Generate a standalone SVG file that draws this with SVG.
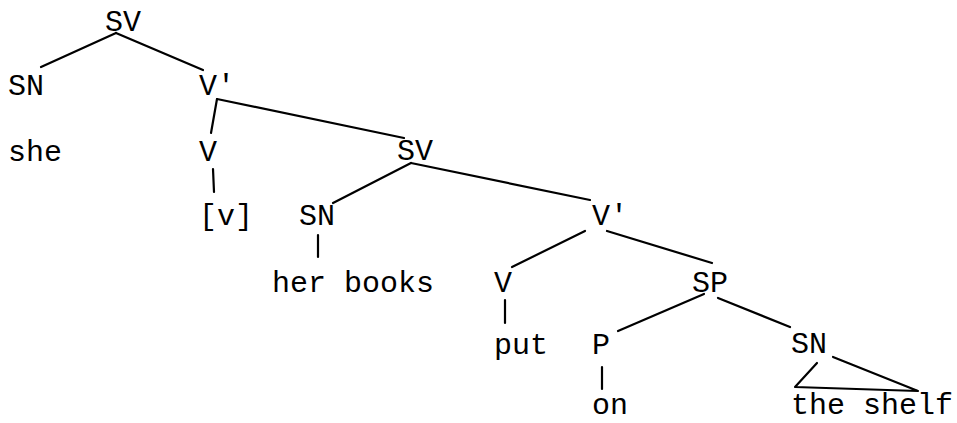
<svg xmlns="http://www.w3.org/2000/svg" width="957" height="423" viewBox="0 0 957 423">
<style>
text{font-family:"Liberation Mono","Courier New",monospace;font-size:30px;fill:#000}
.c line,.c polyline{stroke:#000;stroke-width:2.2;fill:none;stroke-linecap:round;stroke-linejoin:round}
</style>
<rect width="957" height="423" fill="#fff"/>
<g class="c" id="connectors">
<line x1="116" y1="33" x2="41" y2="67"/>
<line x1="116" y1="33" x2="203" y2="70"/>
<line x1="217" y1="99" x2="211" y2="133"/>
<line x1="217" y1="99" x2="404" y2="138"/>
<line x1="213" y1="169" x2="214" y2="192"/>
<line x1="411" y1="163" x2="333" y2="203"/>
<line x1="411" y1="163" x2="590" y2="200"/>
<line x1="318" y1="235" x2="318" y2="257"/>
<line x1="585" y1="231" x2="512" y2="267"/>
<line x1="607" y1="231" x2="712" y2="263"/>
<line x1="505" y1="300" x2="505" y2="323"/>
<line x1="704" y1="294" x2="618" y2="331"/>
<line x1="718" y1="298" x2="790" y2="327"/>
<line x1="602" y1="367" x2="602" y2="389"/>
<polyline points="817,363 795,387 918,391 833,357"/>
</g>
<g id="n-sv1"><text x="105" y="31">SV</text></g>
<g id="n-sn1"><text x="8" y="95">SN</text></g>
<g id="n-vbar1"><text x="199" y="95">V'</text></g>
<g id="n-she"><text x="8" y="161">she</text></g>
<g id="n-v1"><text x="199" y="161">V</text></g>
<g id="n-sv2"><text x="397" y="160">SV</text></g>
<g id="n-vtrace"><text x="199" y="225">[v]</text></g>
<g id="n-sn2"><text x="299" y="225">SN</text></g>
<g id="n-vbar2"><text x="592" y="225">V'</text></g>
<g id="n-herbooks"><text x="272" y="292">her books</text></g>
<g id="n-v2"><text x="494" y="292">V</text></g>
<g id="n-sp"><text x="692" y="292">SP</text></g>
<g id="n-put"><text x="494" y="354">put</text></g>
<g id="n-p"><text x="592" y="354">P</text></g>
<g id="n-sn3"><text x="791" y="353">SN</text></g>
<g id="n-on"><text x="592" y="414">on</text></g>
<g id="n-theshelf"><text x="791" y="414">the shelf</text></g>
</svg>
